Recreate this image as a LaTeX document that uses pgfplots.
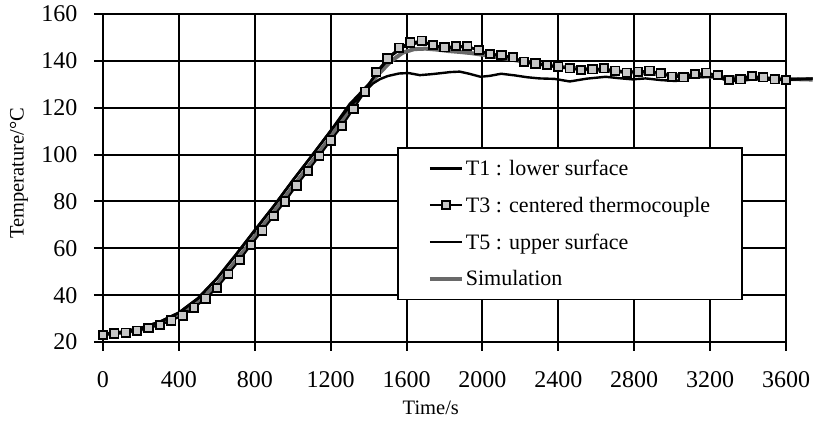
\documentclass[border=0pt]{standalone}
\usepackage{fontspec}
\setmainfont{Liberation Serif}
\usepackage{pgfplots}
\pgfplotsset{compat=1.18}
\usetikzlibrary{calc}
\definecolor{simgray}{RGB}{105,105,105}
\begin{document}
\begin{tikzpicture}
\begin{axis}[
  name=ax,
  scale only axis, width=683pt, height=328pt,
  xmin=0, xmax=3600, ymin=20, ymax=160,
  xtick={0,400,...,3600}, ytick={20,40,...,160},
  tick pos=left, tick align=outside, major tick length=9pt,
  grid=major, grid style={black, line width=1.9pt},
  axis line style={black, line width=1.9pt},
  tick style={black, line width=1.9pt},
  clip=false,
  /pgf/number format/assume math mode=true,
  /pgf/number format/1000 sep={},
  ticklabel style={font=\fontsize{24}{24}\selectfont},
  xticklabel style={yshift=-17pt},
  yticklabel style={xshift=-13pt},
  xlabel={Time/s}, ylabel={Temperature/°C},
  xlabel style={font=\fontsize{20.5}{20.5}\selectfont, at={(axis description cs:0.48,-0.201)}, anchor=center},
  ylabel style={font=\fontsize{20.5}{20.5}\selectfont, at={(axis description cs:-0.123,0.514)}, anchor=center},
  legend cell align=left,
  legend image code/.code={\draw[mark repeat=2,mark phase=2,#1] plot coordinates {(0pt,0pt) (16pt,0pt) (32pt,0pt)};},
  legend style={at={(axis description cs:0.4305,0.5945)}, anchor=north west,
    draw=black, line width=1.6pt, fill=white,
    font=\fontsize{22}{22}\selectfont,
    inner xsep=30pt, inner ysep=10pt, row sep=16pt,
    nodes={inner sep=2pt}},
]
% Simulation (drawn first, below)
\addplot[simgray, line width=4pt, forget plot] coordinates {
(0,23.2) (100,24.0) (200,25.3) (300,27.8) (400,31.1) (500,36.9) (600,44.5)
(700,54.5) (800,65.0) (900,75.4) (1000,86.2) (1100,96.7) (1200,107.5)
(1300,118.9) (1400,129.5) (1460,135.0) (1520,140.0) (1580,143.5)
(1640,145.0) (1700,145.2) (1760,144.8) (1820,144.2) (1880,143.8)
(1940,143.3) (2000,142.6) (2100,141.3) (2200,139.9) (2300,138.6)
(2400,137.6) (2500,136.8) (2600,136.1) (2700,135.5) (2800,135.0)
(2900,134.5) (3000,134.0) (3100,133.6) (3200,133.3) (3300,133.0)
(3400,132.7) (3500,132.5) (3600,132.3) (3740,132.0)};
% T1
\addplot[black, line width=2.6pt] coordinates {
(0,23.4) (100,24.3) (200,26.0) (300,28.6) (400,32.4) (500,38.5) (600,47.0)
(700,57.1) (800,67.6) (900,77.9) (1000,88.9) (1100,99.4) (1200,110.1)
(1300,121.5) (1400,130.0) (1460,136.5) (1520,142.2) (1580,145.8)
(1640,147.4) (1700,147.6) (1760,146.0) (1820,145.6) (1880,146.0)
(1940,145.6) (2000,143.8) (2060,142.7) (2120,142.0) (2180,140.6)
(2240,139.3) (2300,138.6) (2400,137.3) (2500,136.4) (2600,136.5)
(2700,135.7) (2800,135.3) (2900,135.3) (3000,133.5) (3100,134.0)
(3200,134.5) (3300,132.0) (3400,133.2) (3500,132.6) (3600,132.0) (3740,132.3)};
\addlegendentry{T1 : lower surface}
% T3
\addplot[black, line width=2pt, mark=square*, mark size=4.2pt,
  mark options={solid, fill=black!22, draw=black, line width=1.8pt}] coordinates {
(0,23.0) (60,23.6) (120,24.0) (180,24.8) (240,26.0) (300,27.3) (360,29.2)
(420,31.3) (480,34.6) (540,38.5) (600,43.0) (660,49.0) (720,55.0)
(780,61.4) (840,67.6) (900,73.8) (960,80.0) (1020,86.8) (1080,93.0)
(1140,99.4) (1200,106.0) (1260,112.2) (1320,119.5) (1380,126.8)
(1440,135.2) (1500,141.0) (1560,145.6) (1620,147.8) (1680,148.6)
(1740,146.8) (1800,145.8) (1860,146.3) (1920,146.3) (1980,144.6)
(2040,143.0) (2100,142.5) (2160,141.5) (2220,139.6) (2280,138.9)
(2340,138.2) (2400,137.5) (2460,136.8) (2520,136.1) (2580,136.4)
(2640,136.8) (2700,135.8) (2760,134.9) (2820,135.4) (2880,135.8)
(2940,134.7) (3000,133.2) (3060,133.0) (3120,134.4) (3180,134.9)
(3240,133.9) (3300,131.8) (3360,132.1) (3420,133.5) (3480,133.0)
(3540,132.1) (3600,131.8)};
\addlegendentry{T3 : centered thermocouple}
% T5
\addplot[black, line width=2.4pt] coordinates {
(0,23.4) (100,24.3) (200,26.0) (300,28.7) (400,32.6) (500,38.7) (600,47.2)
(700,57.3) (800,67.8) (900,78.1) (1000,89.0) (1100,99.5) (1200,110.2)
(1300,120.5) (1337,123.3) (1380,127.0) (1424,130.4) (1460,132.2)
(1500,133.5) (1560,134.6) (1610,134.8) (1670,133.9) (1730,134.3)
(1776,134.7) (1830,135.2) (1880,135.4) (1930,134.5) (1990,133.2)
(2040,133.6) (2098,134.5) (2170,133.8) (2236,133.0) (2300,132.5)
(2380,132.3) (2460,131.2) (2550,132.4) (2650,133.2) (2720,132.6)
(2790,132.1) (2860,132.5) (2940,131.8) (3020,131.4) (3090,132.8)
(3200,133.2) (3260,132.4) (3300,131.3) (3360,131.5) (3430,132.1)
(3500,132.0) (3600,131.8) (3680,132.3) (3740,132.5)};
\addlegendentry{T5 : upper surface}
\addlegendimage{simgray, line width=4pt}
\addlegendentry{Simulation}
\end{axis}
\pgfresetboundingbox
\path[use as bounding box] ($(ax.south west)+(-103pt,-82pt)$) rectangle ($(ax.north east)+(27pt,14pt)$);
\end{tikzpicture}
\end{document}
